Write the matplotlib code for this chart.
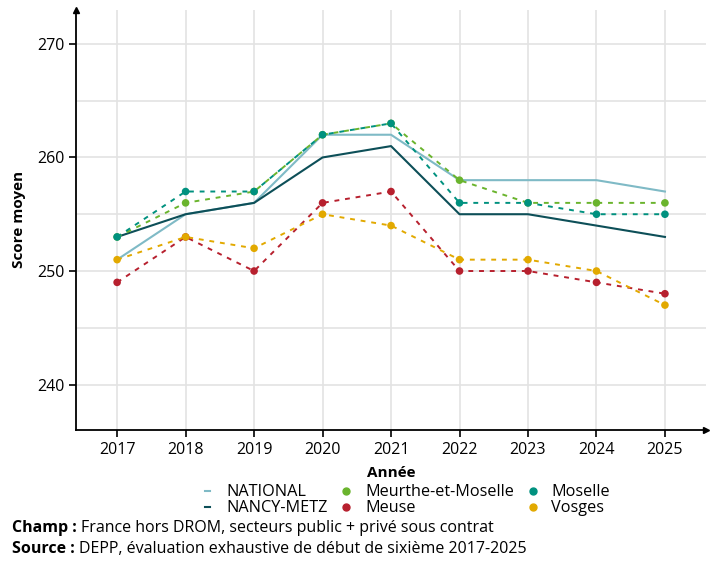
import matplotlib
matplotlib.use("Agg")
import matplotlib.pyplot as plt
from matplotlib.lines import Line2D

plt.rcParams['font.family'] = ['Open Sans', 'DejaVu Sans']

years = [2017, 2018, 2019, 2020, 2021, 2022, 2023, 2024, 2025]
national = [251, 255, 256, 262, 262, 258, 258, 258, 257]
nancy_metz = [253, 255, 256, 260, 261, 255, 255, 254, 253]
meurthe = [253, 256, 257, 262, 263, 258, 256, 256, 256]
moselle = [253, 257, 257, 262, 263, 256, 256, 255, 255]
meuse = [249, 253, 250, 256, 257, 250, 250, 249, 248]
vosges = [251, 253, 252, 255, 254, 251, 251, 250, 247]

fig = plt.figure(figsize=(7.2, 5.61), dpi=100)
ax = fig.add_axes([0.1056, 0.2335, 0.875, 0.749])

# reference lines (solid, no markers)
ax.plot(years, national, color='#7fbac6', lw=1.5, zorder=3)
ax.plot(years, nancy_metz, color='#0d4f58', lw=1.5, zorder=3)

# departments (dashed with points)
deps = [
    (meurthe, '#6ab42d'),
    (moselle, '#00917f'),
    (meuse, '#b7202e'),
    (vosges, '#e2a900'),
]
for vals, col in deps:
    ax.plot(years, vals, color=col, lw=1.4, ls=(0, (2.5, 3)), zorder=4)
    ax.scatter(years, vals, color=col, s=30, zorder=5, edgecolors='none')

ax.set_xlim(2016.4, 2025.6)
ax.set_ylim(236, 273)
ax.set_xticks(years)
ax.set_yticks([240, 250, 260, 270])
ax.set_yticks([245, 255, 265], minor=True)
ax.grid(True, which='both', color='#e3e3e3', lw=1.2, zorder=0)
ax.set_axisbelow(True)
ax.tick_params(which='minor', length=0)
ax.tick_params(which='major', length=5, width=1.2, color='black', labelsize=11.5)

for s in ['top', 'right']:
    ax.spines[s].set_visible(False)
for s in ['left', 'bottom']:
    ax.spines[s].set_linewidth(1.3)
# arrow heads on axes
ax.plot(1, 0, '>k', ms=5, transform=ax.transAxes, clip_on=False)
ax.plot(0, 1, '^k', ms=5, transform=ax.transAxes, clip_on=False)

ax.set_xlabel('Année', fontsize=11, fontweight='bold', labelpad=6)
ax.set_ylabel('Score moyen', fontsize=11, fontweight='bold', labelpad=8)

handles = [
    Line2D([], [], color='#7fbac6', lw=1.5, label='NATIONAL'),
    Line2D([], [], color='#0d4f58', lw=1.5, label='NANCY-METZ'),
    Line2D([], [], color='#6ab42d', marker='o', ls='', ms=5, label='Meurthe-et-Moselle'),
    Line2D([], [], color='#b7202e', marker='o', ls='', ms=5, label='Meuse'),
    Line2D([], [], color='#00917f', marker='o', ls='', ms=5, label='Moselle'),
    Line2D([], [], color='#e2a900', marker='o', ls='', ms=5, label='Vosges'),
]
fig.legend(handles=handles, ncol=3, loc='upper center', bbox_to_anchor=(0.566, 0.152),
           frameon=False, fontsize=11.7, handlelength=0.3, handletextpad=1.0,
           columnspacing=1.0, labelspacing=0.0, borderpad=0, handleheight=0.5)

# captions: bold label followed by regular text
renderer = fig.canvas.get_renderer()
for y, lab, txt in [(0.052, 'Champ :', 'France hors DROM, secteurs public + privé sous contrat'),
                    (0.014, 'Source :', 'DEPP, évaluation exhaustive de début de sixième 2017-2025')]:
    t = fig.text(0.017, y, lab, fontsize=11.5, fontweight='bold')
    bb = t.get_window_extent(renderer)
    fig.text((bb.x1 + 4) / fig.bbox.width, y, txt, fontsize=11.5)

fig.savefig('out.png', dpi=100)
